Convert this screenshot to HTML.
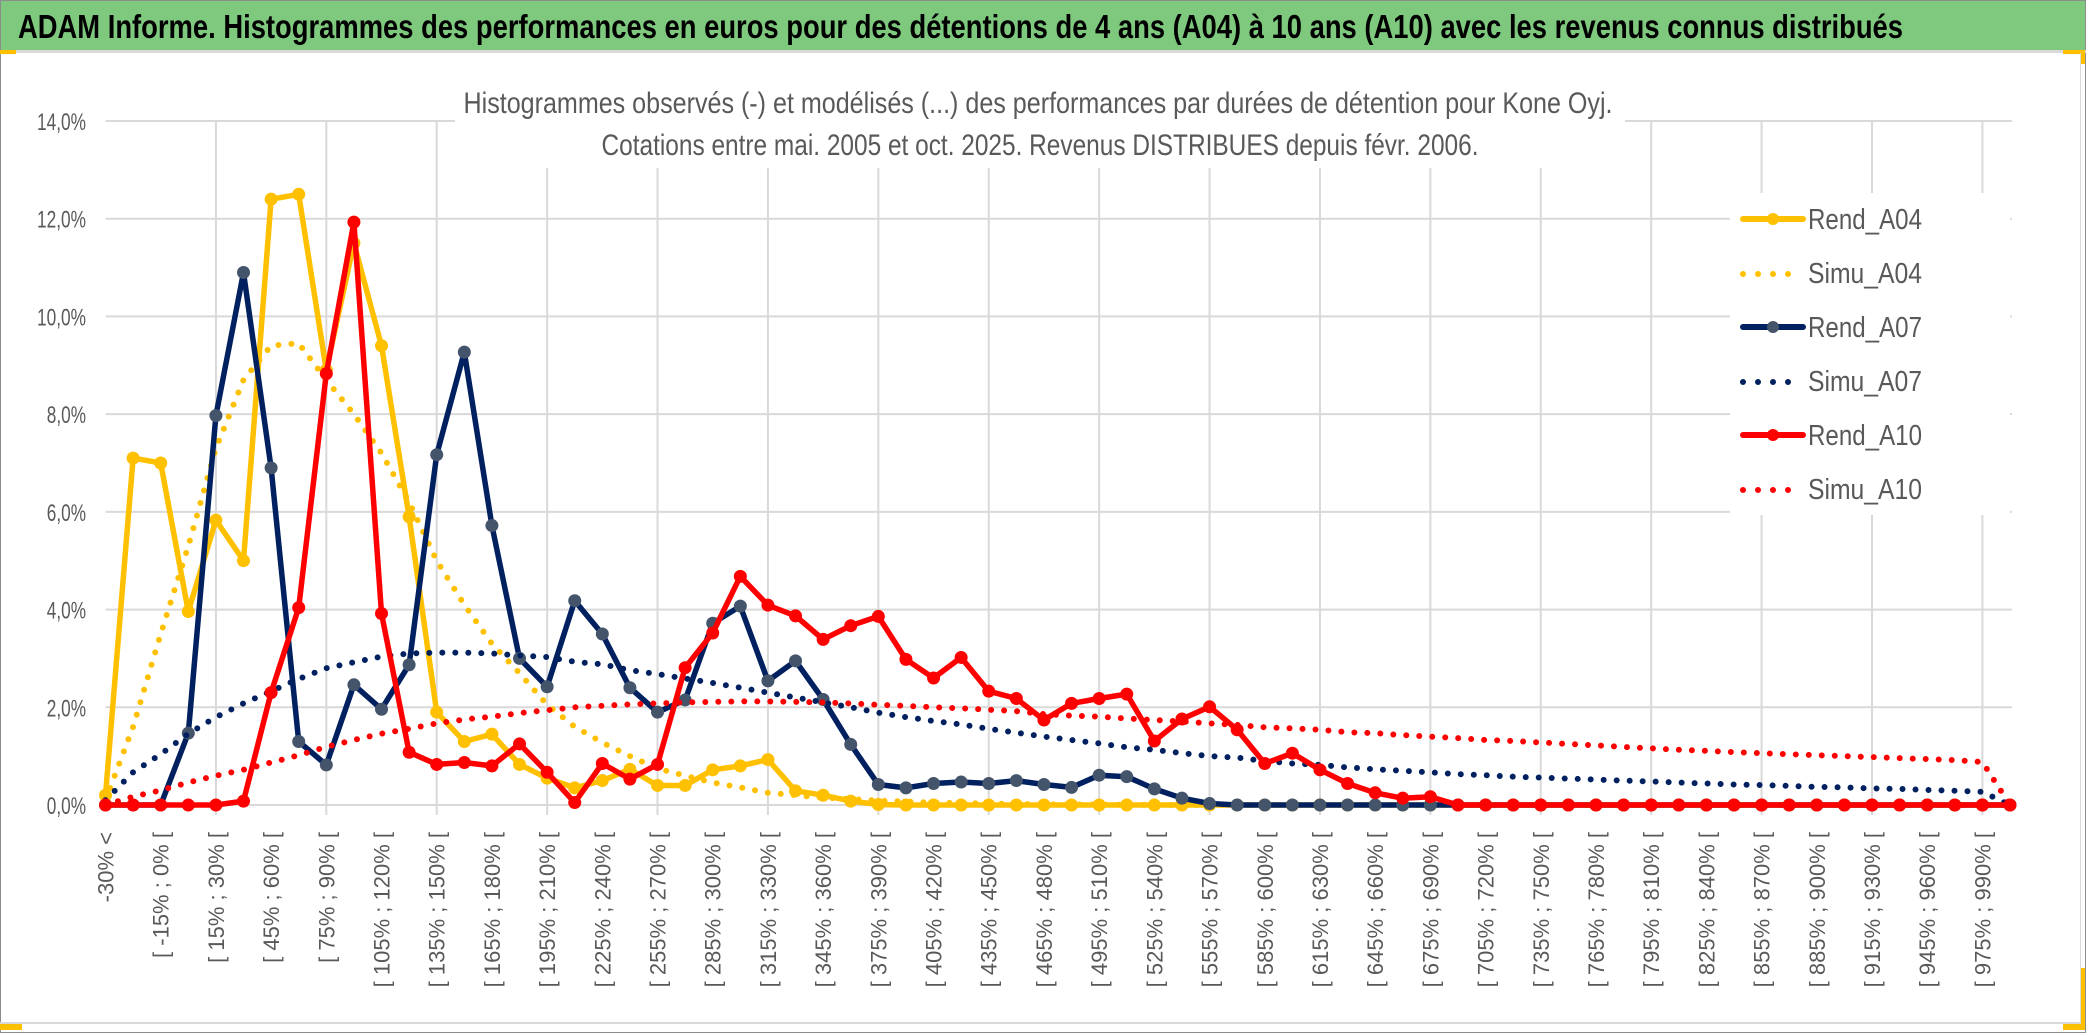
<!DOCTYPE html>
<html><head><meta charset="utf-8">
<style>
html,body{margin:0;padding:0;background:#fff;}
svg{display:block;}
text{font-family:"Liberation Sans",sans-serif;}
</style></head>
<body>
<svg id="chart" width="2086" height="1033" viewBox="0 0 2086 1033" xmlns="http://www.w3.org/2000/svg">
  <rect x="0.5" y="0.5" width="2085" height="1032" fill="#fff" stroke="#8c8c8c"/>
  <rect x="1" y="1" width="2084" height="49" fill="#7fc97f"/>
  <text x="18" y="38" font-size="33" font-weight="bold" fill="#000" textLength="1885" lengthAdjust="spacingAndGlyphs">ADAM Informe. Histogrammes des performances en euros pour des détentions de 4 ans (A04) à 10 ans (A10) avec les revenus connus distribués</text>
  <rect x="0" y="50" width="2086" height="3" fill="#d9d9d9"/>
  <rect x="0" y="50" width="16" height="4" fill="#ffc000"/>
  <rect x="2063" y="50" width="22" height="4" fill="#ffc000"/>
  <rect x="2081" y="50" width="4" height="14" fill="#ffc000"/>
  <rect x="2080" y="53" width="1" height="970" fill="#d9d9d9"/>
  <rect x="0" y="1022" width="2081" height="2" fill="#d9d9d9"/>
  <rect x="0" y="1024" width="22" height="6" fill="#ffc000"/>
  <rect x="2063" y="1024" width="20" height="6" fill="#ffc000"/>
  <rect x="2081" y="968" width="4" height="62" fill="#ffc000"/>
  <g id="grid"></g>
  <g id="yaxis"></g>
  <g id="xaxis"></g>
  <rect x="455" y="78" width="1170" height="90" fill="#fff"/>
  <text x="1038" y="113" font-size="30" fill="#595959" text-anchor="middle" textLength="1149" lengthAdjust="spacingAndGlyphs">Histogrammes observés (-) et modélisés (...) des performances par durées de détention pour Kone Oyj.</text>
  <text x="1040" y="155" font-size="30" fill="#595959" text-anchor="middle" textLength="877" lengthAdjust="spacingAndGlyphs">Cotations entre mai. 2005 et oct. 2025. Revenus DISTRIBUES depuis févr. 2006.</text>
  <g id="series"></g>
  <g id="legend"></g>
</svg>
<script>
const categories = ["-30% <","[ -30% ; -15% [","[ -15% ; 0% [","[ 0% ; 15% [","[ 15% ; 30% [","[ 30% ; 45% [","[ 45% ; 60% [","[ 60% ; 75% [","[ 75% ; 90% [","[ 90% ; 105% [","[ 105% ; 120% [","[ 120% ; 135% [","[ 135% ; 150% [","[ 150% ; 165% [","[ 165% ; 180% [","[ 180% ; 195% [","[ 195% ; 210% [","[ 210% ; 225% [","[ 225% ; 240% [","[ 240% ; 255% [","[ 255% ; 270% [","[ 270% ; 285% [","[ 285% ; 300% [","[ 300% ; 315% [","[ 315% ; 330% [","[ 330% ; 345% [","[ 345% ; 360% [","[ 360% ; 375% [","[ 375% ; 390% [","[ 390% ; 405% [","[ 405% ; 420% [","[ 420% ; 435% [","[ 435% ; 450% [","[ 450% ; 465% [","[ 465% ; 480% [","[ 480% ; 495% [","[ 495% ; 510% [","[ 510% ; 525% [","[ 525% ; 540% [","[ 540% ; 555% [","[ 555% ; 570% [","[ 570% ; 585% [","[ 585% ; 600% [","[ 600% ; 615% [","[ 615% ; 630% [","[ 630% ; 645% [","[ 645% ; 660% [","[ 660% ; 675% [","[ 675% ; 690% [","[ 690% ; 705% [","[ 705% ; 720% [","[ 720% ; 735% [","[ 735% ; 750% [","[ 750% ; 765% [","[ 765% ; 780% [","[ 780% ; 795% [","[ 795% ; 810% [","[ 810% ; 825% [","[ 825% ; 840% [","[ 840% ; 855% [","[ 855% ; 870% [","[ 870% ; 885% [","[ 885% ; 900% [","[ 900% ; 915% [","[ 915% ; 930% [","[ 930% ; 945% [","[ 945% ; 960% [","[ 960% ; 975% [","[ 975% ; 990% [","990% >"];
const yTicks = [0,2,4,6,8,10,12,14];
const yTickLabels = ["0,0%","2,0%","4,0%","6,0%","8,0%","10,0%","12,0%","14,0%"];
const rendA04 = [0.2,7.1,7.0,3.96,5.83,5.0,12.4,12.5,8.9,11.5,9.4,5.9,1.9,1.3,1.45,0.83,0.55,0.35,0.5,0.73,0.4,0.4,0.72,0.8,0.93,0.29,0.2,0.08,0.01,0,0,0,0,0,0,0,0,0,0,0,0,0,0,0,0,0,0,0,0,0,0,0,0,0,0,0,0,0,0,0,0,0,0,0,0,0,0,0,0,0];
const simuA04 = [0.1,1.6,3.5,5.3,7.3,8.7,9.4,9.45,8.7,8.0,7.2,6.2,5.0,4.1,3.3,2.7,2.05,1.6,1.28,1.0,0.75,0.6,0.46,0.36,0.25,0.2,0.15,0.12,0.09,0.07,0.05,0.04,0.03,0.02,0.015,0.01,0.01,0.005,0,0,0,0,0,0,0,0,0,0,0,0,0,0,0,0,0,0,0,0,0,0,0,0,0,0,0,0,0,0,0,0];
const rendA07 = [0,0,0,1.47,7.97,10.9,6.9,1.3,0.82,2.46,1.96,2.87,7.17,9.27,5.72,3.0,2.42,4.18,3.5,2.4,1.9,2.15,3.72,4.07,2.54,2.95,2.16,1.24,0.42,0.35,0.44,0.47,0.44,0.5,0.42,0.36,0.61,0.58,0.33,0.14,0.03,0,0,0,0,0,0,0,0,0,0,0,0,0,0,0,0,0,0,0,0,0,0,0,0,0,0,0,0,0];
const simuA07 = [0.1,0.67,1.04,1.46,1.8,2.08,2.33,2.58,2.8,2.92,3.04,3.1,3.12,3.12,3.1,3.06,3.03,2.93,2.88,2.76,2.68,2.59,2.5,2.4,2.3,2.2,2.1,2.0,1.89,1.8,1.72,1.65,1.56,1.48,1.4,1.33,1.26,1.18,1.13,1.06,1.0,0.97,0.9,0.85,0.82,0.77,0.73,0.7,0.67,0.63,0.61,0.58,0.56,0.54,0.52,0.5,0.48,0.46,0.44,0.42,0.41,0.39,0.37,0.36,0.34,0.33,0.31,0.29,0.27,0];
const rendA10 = [0,0,0,0,0,0.08,2.3,4.04,8.83,11.93,3.92,1.08,0.83,0.87,0.8,1.25,0.67,0.05,0.85,0.53,0.83,2.81,3.52,4.68,4.09,3.87,3.39,3.67,3.86,2.98,2.6,3.02,2.33,2.18,1.74,2.08,2.18,2.27,1.31,1.76,2.01,1.54,0.85,1.06,0.72,0.44,0.25,0.14,0.17,0,0,0,0,0,0,0,0,0,0,0,0,0,0,0,0,0,0,0,0,0];
const simuA10 = [0,0.17,0.3,0.46,0.6,0.72,0.87,1.02,1.19,1.33,1.46,1.56,1.67,1.75,1.81,1.88,1.94,2.0,2.03,2.06,2.08,2.1,2.11,2.12,2.12,2.11,2.1,2.08,2.05,2.03,2.0,1.98,1.95,1.92,1.86,1.83,1.81,1.77,1.74,1.71,1.67,1.64,1.59,1.57,1.54,1.49,1.47,1.43,1.4,1.37,1.33,1.31,1.28,1.25,1.22,1.19,1.16,1.13,1.11,1.08,1.06,1.04,1.02,1.0,0.98,0.96,0.94,0.92,0.88,0];
const seriesNames = ["Rend_A04","Simu_A04","Rend_A07","Simu_A07","Rend_A10","Simu_A10"];

const NS = "http://www.w3.org/2000/svg";
const plotL = 105.5, plotR = 2012, yZero = 805, yTop = 121, yMax = 14;
const step = (2010 - plotL) / (categories.length - 1);
function xPos(i){ return plotL + i * step; }
function yPos(v){ return yZero - (v / yMax) * (yZero - yTop); }
function mk(tag, attrs, parent){
  const e = document.createElementNS(NS, tag);
  for (const k in attrs) e.setAttribute(k, attrs[k]);
  parent.appendChild(e);
  return e;
}
const grid = document.getElementById('grid');
yTicks.forEach(t => {
  const l = mk('line', {x1: plotL, x2: plotR, y1: yPos(t), y2: yPos(t), stroke: '#d9d9d9', 'stroke-width': 2}, grid);
  
  
});
categories.forEach((c, i) => {
  if (i % 4 === 0 && i > 0) {
    const l = mk('line', {x1: xPos(i), x2: xPos(i), y1: yTop, y2: yZero + 10, stroke: '#d9d9d9', 'stroke-width': 2}, grid);
    
    
  }
});
const yax = document.getElementById('yaxis');
yTicks.forEach((t, k) => {
  const tx = mk('text', {x: 86, y: yPos(t) + 9, 'font-size': 24, fill: '#595959', 'text-anchor': 'end', textLength: yTickLabels[k].length * 9.8, lengthAdjust: 'spacingAndGlyphs'}, yax);
  tx.textContent = yTickLabels[k];
  
  
});
const xax = document.getElementById('xaxis');
categories.forEach((c, i) => {
  if (i % 2 !== 0) return;
  const x = xPos(i) + 8, y = 832;
  const tx = mk('text', {x: x, y: y, 'font-size': 22, fill: '#595959', 'text-anchor': 'end', transform: 'rotate(-90 ' + x + ' ' + y + ')'}, xax);
  tx.textContent = c;
  
  
});
const sg = document.getElementById('series');
function pathD(vals){ return vals.map((v, i) => (i ? 'L' : 'M') + xPos(i).toFixed(1) + ' ' + yPos(v).toFixed(1)).join(' '); }
function dotted(vals, color, name){
  const p = mk('path', {d: pathD(vals), fill: 'none', stroke: color, 'stroke-width': 6, 'stroke-linecap': 'round', 'stroke-dasharray': '0 13'}, sg);
  
  
}
function solid(vals, color, mfill, name){
  const p = mk('path', {d: pathD(vals), fill: 'none', stroke: color, 'stroke-width': 5.5, 'stroke-linejoin': 'round'}, sg);
  
  
  vals.forEach((v, i) => {
    const c = mk('circle', {cx: xPos(i), cy: yPos(v), r: 6.5, fill: mfill}, sg);
    
    
  });
}
solid(rendA04, '#ffc000', '#ffc000', 'rend-a04-line');
dotted(simuA04, '#ffc000', 'simu-a04-line');
solid(rendA07, '#002060', '#44546a', 'rend-a07-line');
dotted(simuA07, '#002060', 'simu-a07-line');
solid(rendA10, '#ff0000', '#ff0000', 'rend-a10-line');
dotted(simuA10, '#ff0000', 'simu-a10-line');

const lg = document.getElementById('legend');
const lbg = mk('rect', {x: 1730, y: 193, width: 280, height: 322, fill: '#fff'}, lg);


const legColors = ['#ffc000','#ffc000','#002060','#002060','#ff0000','#ff0000'];
const legMarker = ['#ffc000',null,'#44546a',null,'#ff0000',null];
seriesNames.forEach((n, k) => {
  const y = 219 + k * 54;
  if (legMarker[k]) {
    const l = mk('line', {x1: 1743, x2: 1803, y1: y, y2: y, stroke: legColors[k], 'stroke-width': 6, 'stroke-linecap': 'round'}, lg);
    
    
    const c = mk('circle', {cx: 1773, cy: y, r: 6, fill: legMarker[k]}, lg);
    
    
  } else {
    const l = mk('line', {x1: 1743, x2: 1800, y1: y + 1, y2: y + 1, stroke: legColors[k], 'stroke-width': 6, 'stroke-linecap': 'round', 'stroke-dasharray': '0 15'}, lg);
    
    
  }
  const t = mk('text', {x: 1808, y: y + 10, 'font-size': 29, fill: '#595959', textLength: 114, lengthAdjust: 'spacingAndGlyphs'}, lg);
  t.textContent = n;
  
  
});
</script>
</body></html>
